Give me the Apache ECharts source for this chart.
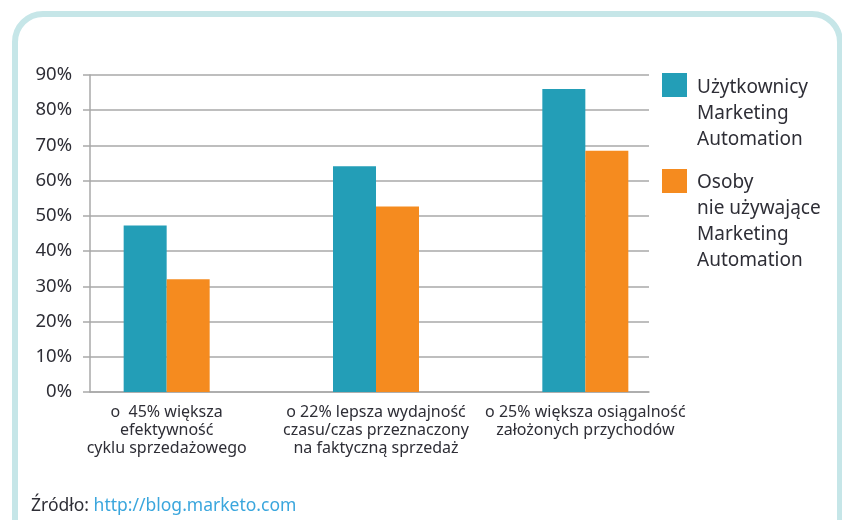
<!DOCTYPE html>
<html><head><meta charset="utf-8">
<script src="https://cdn.jsdelivr.net/npm/echarts@6/dist/echarts.min.js"></script>
<style>html,body{margin:0;padding:0;background:#fff}#c{width:842px;height:520px}</style>
</head><body><div id="c"></div>
<script>
// ---- data ----
const categories = [
  'o  45% większa\nefektywność\ncyklu sprzedażowego',
  'o 22% lepsza wydajność\nczasu/czas przeznaczony\nna faktyczną sprzedaż',
  'o 25% większa osiągalność\nzałożonych przychodów'
];
const seriesNames = [
  'Użytkownicy\nMarketing\nAutomation',
  'Osoby\nnie używające\nMarketing\nAutomation'
];
const usersValues = [47.3, 64.1, 86.0];
const nonUsersValues = [32.0, 52.7, 68.5];
const yMin = 0, yMax = 90, yStep = 10;
const sourceLabel = 'Źródło:';
const sourceUrl = 'http://blog.marketo.com';

// ---- styles ----
const colors = ['#239eb7', '#f58b1f'];
const FONT = 'Noto Sans';
const gridColor = '#a9a9a9';
const textColor = '#2e2e36';

const chart = echarts.init(document.getElementById('c'), null, {renderer: 'canvas'});

const legendItems = [
  {y: 73, textY: 75},
  {y: 169, textY: 170}
];
const legendGraphics = [];
seriesNames.forEach((n, i) => {
  legendGraphics.push({
    type: 'rect', left: 662, top: legendItems[i].y,
    shape: {width: 25, height: 24},
    style: {fill: colors[i]}
  });
  legendGraphics.push({
    type: 'text', left: 697, top: legendItems[i].textY,
    style: {text: n, font: '19px "' + FONT + '"', lineHeight: 26, fill: textColor}
  });
});

chart.setOption({
  animation: false,
  grid: [
    {left: 90, right: 193, top: 75, bottom: 128},
    {left: 62, right: 152, top: 75, bottom: 128}
  ],
  xAxis: [
    {type: 'category', gridIndex: 0, data: categories,
     axisLine: {show: true, lineStyle: {color: gridColor, width: 1.5}},
     axisTick: {show: false}, axisLabel: {show: false}, splitLine: {show: false}},
    {type: 'category', gridIndex: 1, data: categories,
     axisLine: {show: false}, axisTick: {show: false},
     axisLabel: {show: true, interval: 0, margin: 11, color: textColor, fontFamily: FONT, fontSize: 16, lineHeight: 18, align: 'center'}}
  ],
  yAxis: [
    {type: 'value', gridIndex: 0, min: yMin, max: yMax, interval: yStep,
     axisLine: {show: true, lineStyle: {color: gridColor, width: 1.5}},
     axisTick: {show: true, length: 7, lineStyle: {color: gridColor, width: 1.5}},
     axisLabel: {formatter: '{value}%', color: textColor, fontFamily: FONT, fontSize: 18.5, margin: 18},
     splitLine: {show: true, lineStyle: {color: gridColor, width: 1.5}}},
    {type: 'value', gridIndex: 1, min: yMin, max: yMax, interval: yStep, show: false}
  ],
  series: [
    {name: seriesNames[0], type: 'bar', xAxisIndex: 1, yAxisIndex: 1, data: usersValues,
     barWidth: 43, barGap: '0%', itemStyle: {color: colors[0]}},
    {name: seriesNames[1], type: 'bar', xAxisIndex: 1, yAxisIndex: 1, data: nonUsersValues,
     barWidth: 43, barGap: '0%', itemStyle: {color: colors[1]}}
  ],
  graphic: [
    {type: 'rect', left: 12, top: 11, z: -1,
     shape: {width: 825, height: 620, r: 28},
     style: {fill: 'none', stroke: '#c6e6e8', lineWidth: 6}},
    ...legendGraphics,
    {type: 'text', left: 31, top: 497,
     style: {
       text: sourceLabel + ' {u|' + sourceUrl + '}',
       font: '17.5px "' + FONT + '"', fill: textColor,
       rich: {u: {fill: '#3aa6dd', fontFamily: FONT, fontSize: 17.5}}
     }}
  ]
});
</script>
</body></html>
